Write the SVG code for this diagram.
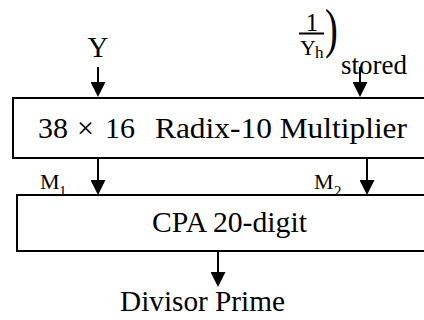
<svg xmlns="http://www.w3.org/2000/svg" width="424" height="320" viewBox="0 0 424 320">
  <defs>
    <marker id="arrow" markerUnits="userSpaceOnUse" markerWidth="15" markerHeight="15" refX="0" refY="7.5" orient="auto">
      <path d="M0,0 L15,7.5 L0,15 Z" fill="#000"/>
    </marker>
    <style>
      .box { fill: #fff; stroke: #000; stroke-width: 2; }
      .wire { stroke: #000; stroke-width: 2; fill: none; marker-end: url(#arrow); }
      text { font-family: 'Liberation Serif', 'DejaVu Serif', serif; fill: #000; }
    </style>
  </defs>
  <rect width="424" height="320" fill="#fff"/>

  <!-- input labels -->
  <g id="in-y">
    <text x="98" y="57" font-size="29" text-anchor="middle">Y</text>
  </g>
  <g id="in-recip">
    <text x="312" y="31" font-size="25" text-anchor="middle">1</text>
    <line x1="299" y1="33.5" x2="324" y2="33.5" stroke="#000" stroke-width="2"/>
    <text x="300" y="55" font-size="22">Y</text>
    <text x="315" y="58" font-size="17">h</text>
    <text font-size="55" transform="translate(325,47) scale(0.7,1)">)</text>
    <text x="341" y="74" font-size="27">stored</text>
  </g>

  <!-- multiplier block -->
  <g id="multiplier">
    <rect class="box" x="13" y="98" width="420" height="60"/>
    <text y="138" font-size="30"><tspan x="38">38</tspan><tspan x="77">×</tspan><tspan x="105">16</tspan></text>
    <text x="155" y="138" font-size="30" textLength="252" lengthAdjust="spacingAndGlyphs">Radix-10 Multiplier</text>
  </g>

  <!-- carry-propagate adder -->
  <g id="cpa">
    <rect class="box" x="17" y="195" width="420" height="56"/>
    <text x="152" y="232" font-size="29" textLength="155" lengthAdjust="spacingAndGlyphs">CPA 20-digit</text>
  </g>

  <!-- output label -->
  <g id="out">
    <text x="120" y="311" font-size="29" textLength="165" lengthAdjust="spacingAndGlyphs">Divisor Prime</text>
  </g>

  <!-- connectors -->
  <g id="connectors">
    <line class="wire" x1="98" y1="67" x2="98" y2="82"/>
    <line class="wire" x1="360" y1="67" x2="360" y2="82"/>
    <line class="wire" x1="98" y1="158" x2="98" y2="180"/>
    <line class="wire" x1="367" y1="158" x2="367" y2="180"/>
    <line class="wire" x1="218" y1="251" x2="218" y2="272"/>
    <text x="40" y="189" font-size="22">M</text>
    <text x="59" y="196" font-size="15">1</text>
    <text x="314" y="189" font-size="22">M</text>
    <text x="334" y="196" font-size="15">2</text>
  </g>
</svg>
